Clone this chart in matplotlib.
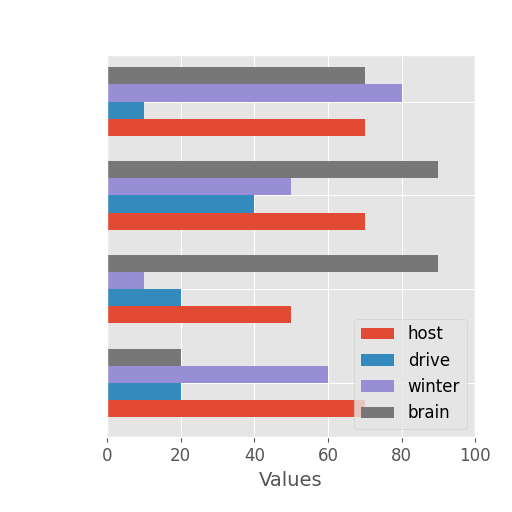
import matplotlib.pyplot as plt
import numpy as np

plt.style.use('ggplot')

# data, groups from bottom to top
groups = ['g1', 'g2', 'g3', 'g4']
host = [70, 50, 70, 70]
drive = [20, 20, 40, 10]
winter = [60, 10, 50, 80]
brain = [20, 90, 90, 70]
series = {'host': host, 'drive': drive, 'winter': winter, 'brain': brain}

fig, ax = plt.subplots(figsize=(5.12, 5.12), dpi=100)
fig.subplots_adjust(left=0.209, right=0.928, top=0.893, bottom=0.146)

y = np.arange(len(groups))
h = 0.183
for i, (name, vals) in enumerate(series.items()):
    ax.barh(y + (i - 1.5) * h, vals, height=h, label=name)

ax.set_yticks(y)
ax.set_yticklabels([])
ax.tick_params(axis='y', length=0)
ax.set_xlim(0, 100)
ax.set_ylim(-0.58, 3.5)
ax.set_xticks([0, 20, 40, 60, 80, 100])
ax.tick_params(axis='x', labelsize=12)
ax.set_xlabel('Values', fontsize=14)
ax.legend(loc='lower right', fontsize=12)

plt.savefig('out.png', dpi=100)
